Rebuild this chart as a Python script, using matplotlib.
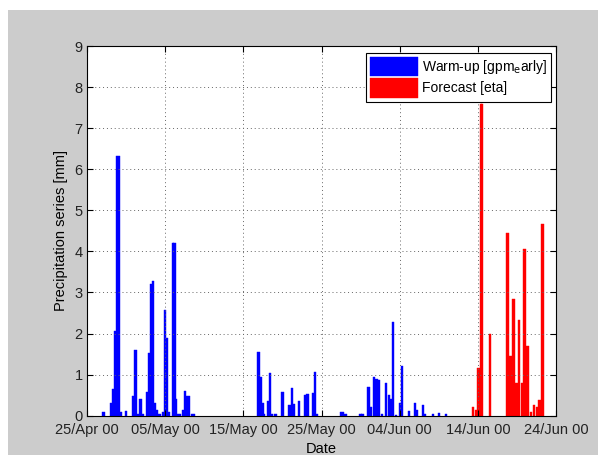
import numpy as np
import matplotlib
matplotlib.use("Agg")
import matplotlib.pyplot as plt
from matplotlib.patches import Rectangle

# days since 25/Apr 00 and precipitation [mm]
warm_days = [2.09, 3.06, 3.29, 3.57, 3.83, 4.08, 4.29, 4.96, 5.88, 6.2, 6.47, 6.86,
             7.12, 7.76, 7.97, 8.19, 8.44, 8.72, 8.97, 9.29, 9.78, 9.98, 10.21, 10.42,
             10.98, 11.2, 11.42, 11.67, 11.92, 12.29, 12.56, 12.82, 13.08, 13.4, 13.72,
             21.96, 22.22, 22.44, 22.63, 23.21, 23.44, 23.68, 24.1, 25.0, 25.92, 26.19,
             26.41, 27.14, 27.97, 28.23, 28.97, 29.17, 29.4, 32.5, 32.76, 33.08, 35.0,
             35.26, 36.0, 36.32, 36.71, 37.05, 37.35, 37.76, 38.29, 38.63, 38.91, 39.17,
             39.55, 40.06, 40.32, 41.19, 41.99, 42.24, 42.99, 43.27, 44.23, 45.04, 45.9]
warm_mm = [0.1, 0.3, 0.65, 2.05, 6.33, 6.33, 0.1, 0.12, 0.47, 1.6, 0.05, 0.4,
           0.05, 0.58, 1.52, 3.2, 3.28, 0.3, 0.15, 0.05, 0.1, 2.57, 1.88, 0.1,
           4.2, 4.2, 0.4, 0.05, 0.05, 0.13, 0.6, 0.47, 0.47, 0.03, 0.03,
           1.54, 0.94, 0.3, 0.03, 0.35, 1.03, 0.05, 0.03, 0.57, 0.25, 0.68,
           0.28, 0.37, 0.5, 0.54, 0.55, 1.07, 0.03, 0.08, 0.08, 0.05, 0.03,
           0.03, 0.69, 0.2, 0.94, 0.9, 0.88, 0.03, 0.79, 0.5, 0.4, 2.28,
           0.02, 0.3, 1.22, 0.12, 0.32, 0.15, 0.26, 0.03, 0.05, 0.07, 0.03]

fc_days = [49.42, 49.81, 50.1, 50.4, 50.55, 51.54, 53.81, 54.19, 54.58, 54.94, 55.3,
           55.64, 55.99, 56.37, 56.79, 57.15, 57.53, 57.91, 58.29]
fc_mm = [0.2, 0.13, 1.16, 7.58, 7.58, 1.99, 4.45, 1.45, 2.85, 0.8, 2.33,
         0.8, 4.07, 1.69, 0.1, 0.27, 0.2, 0.38, 4.66]

tick_days = [0, 10, 20, 30, 40, 50, 60]
tick_labels = ['25/Apr 00', '05/May 00', '15/May 00', '25/May 00',
               '04/Jun 00', '14/Jun 00', '24/Jun 00']

plt.rcParams['font.family'] = ['Liberation Sans', 'DejaVu Sans']
plt.rcParams['font.size'] = 10.5

fig = plt.figure(figsize=(5.98, 4.55), dpi=100, facecolor='white')
fig.patches.append(Rectangle((8/598, 0), 1, 1 - 10/455, transform=fig.transFigure,
                             facecolor='#cccccc', edgecolor='none', zorder=-1))
ax = fig.add_axes([87/598, 39.3/455, 469/598, 369.7/455])

ax.bar(warm_days, warm_mm, width=0.3, color='#0000ff', edgecolor='#0000ff',
       linewidth=0.3, label='Warm-up [gpm$_\\mathrm{e}$arly]')
ax.bar(fc_days, fc_mm, width=0.3, color='#ff0000', edgecolor='#ff0000',
       linewidth=0.3, label='Forecast [eta]')

ax.set_xlim(0, 60)
ax.set_ylim(0, 9)
ax.set_xticks(tick_days)
ax.set_xticklabels(tick_labels)
ax.set_yticks(range(10))
ax.tick_params(direction='in', top=True, right=True, length=4, width=0.8,
               colors='black', labelcolor='#222222')
ax.tick_params(axis='x', pad=5.5)
ax.tick_params(axis='y', pad=3)
# raise the y labels a touch, as in the original
for lab in ax.get_yticklabels():
    lab.set_va('center_baseline')
ax.grid(True, linestyle=(0, (1, 3)), color='#666666', linewidth=0.7)
for s in ax.spines.values():
    s.set_linewidth(0.8)

ax.set_xlabel('Date', labelpad=3)
ax.set_ylabel('Precipitation series [mm]', labelpad=5)

leg = ax.legend(loc='upper right', bbox_to_anchor=(0.99, 0.982), fancybox=False,
                edgecolor='black', framealpha=1, handlelength=3.4, handleheight=1.8,
                borderpad=0.3, labelspacing=0.1, handletextpad=0.3, borderaxespad=0,
                fontsize=10)
leg.get_frame().set_linewidth(0.8)

fig.savefig('out.png', dpi=100, facecolor=fig.get_facecolor())
